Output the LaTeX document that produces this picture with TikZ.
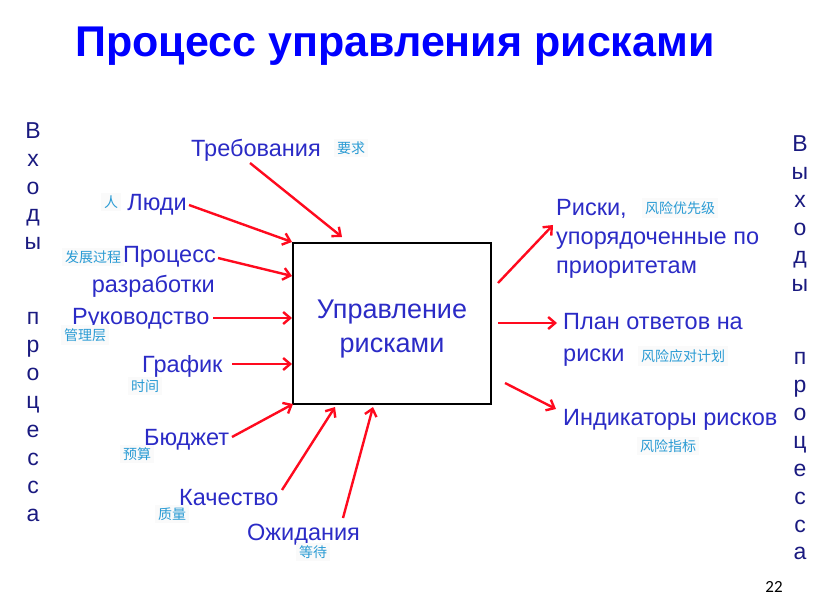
\documentclass[tikz,border=0pt]{standalone}
\usepackage{fontspec}
\setmainfont{Liberation Sans}
\newfontfamily\cjk{Noto Sans CJK SC}
\newfontfamily\calib{Carlito}
\usetikzlibrary{arrows.meta}
\definecolor{lblc}{HTML}{2B2BC6}
\definecolor{sidec}{HTML}{1A1A80}
\definecolor{zhc}{HTML}{2A9BD4}
\definecolor{ttlc}{HTML}{0000FF}
\definecolor{arrc}{HTML}{FF0A1E}
\begin{document}
\begin{tikzpicture}[x=1pt,y=-1pt,
  lbl/.style={text=lblc, font=\fontsize{23.5}{28}\selectfont, inner sep=0pt},
  boxlbl/.style={text=lblc, font=\fontsize{27}{32}\selectfont, inner sep=0pt},
  zhlbl/.style={text=zhc, font=\cjk\fontsize{14}{16}\selectfont, fill=black!2, inner sep=3pt},
  sidel/.style={text=sidec, font=\fontsize{23}{26}\selectfont, inner sep=0pt, anchor=base},
  arrow/.style={draw=arrc, line width=2.4pt, -{Straight Barb[length=7pt,width=12pt]}}]
\useasboundingbox (0,0) rectangle (813,601);

% title
\node[text=ttlc, font=\fontsize{43}{50}\selectfont\bfseries, inner sep=0pt, anchor=base] (title) at (395,57) {Процесс управления рисками};

% central box
\node[draw=black, line width=2.4pt, minimum width=198pt, minimum height=161pt, inner sep=0pt] (box) at (392,323.5) {};
\node[boxlbl, anchor=base] (bx1) at (392,318) {Управление};
\node[boxlbl, anchor=base] (bx2) at (392,352) {рисками};

% side columns
\foreach \ch/\yy [count=\i] in {В/139,х/167,о/195,д/222,ы/250,п/324,р/352,о/380,ц/408,е/437,с/465,с/493,а/521}
  \node[sidel] (L\i) at (33,\yy) {\ch};
\foreach \ch/\yy [count=\i] in {В/152,ы/180,х/208,о/236,д/264,ы/292,п/364,р/392,о/420,ц/448,е/476,с/504,с/532,а/559}
  \node[sidel] (R\i) at (800,\yy) {\ch};

% input labels
\node[lbl, anchor=base west] (treb) at (191,157) {Требования};
\node[lbl, anchor=base east] (lyudi) at (187,211) {Люди};
\node[lbl, anchor=base east] (proc1) at (216,263) {Процесс};
\node[lbl, anchor=base east] (proc2) at (215,293) {разработки};
\node[lbl, anchor=base west] (ruk) at (72,324) {Руководство};
\node[lbl, anchor=base west] (graf) at (142,372) {График};
\node[lbl, anchor=base west] (bud) at (144,445) {Бюджет};
\node[lbl, anchor=base west] (kach) at (179,505) {Качество};
\node[lbl, anchor=base west] (ozh) at (247,540) {Ожидания};

% output labels
\node[lbl, anchor=base west] (o1a) at (556,216) {Риски,};
\node[lbl, anchor=base west] (o1b) at (556,245) {упорядоченные по};
\node[lbl, anchor=base west] (o1c) at (556,274) {приоритетам};
\node[lbl, anchor=base west] (o2a) at (563,330) {План ответов на};
\node[lbl, anchor=base west] (o2b) at (563,361) {риски};
\node[lbl, anchor=base west] (o3) at (563,425) {Индикаторы рисков};

% chinese annotations
\node[zhlbl] (z1) at (351,148) {要求};
\node[zhlbl] (z2) at (111,202) {人};
\node[zhlbl] (z3) at (93,257) {发展过程};
\node[zhlbl] (z4) at (85,335) {管理层};
\node[zhlbl] (z5) at (145,386) {时间};
\node[zhlbl] (z6) at (137,454) {预算};
\node[zhlbl] (z7) at (172,514) {质量};
\node[zhlbl] (z8) at (313,552) {等待};
\node[zhlbl] (z9) at (680,208) {风险优先级};
\node[zhlbl] (z10) at (683,356) {风险应对计划};
\node[zhlbl] (z11) at (668,446) {风险指标};

% page number
\node[font=\calib\fontsize{17}{19}\selectfont, inner sep=0pt] (pg) at (774,587) {22};

% arrow endpoints
\coordinate (s1) at (250,163); \coordinate (e1) at (342,237);
\coordinate (s2) at (189,205); \coordinate (e2) at (292,242);
\coordinate (s3) at (218,258); \coordinate (e3) at (292,276);
\coordinate (s4) at (213,318); \coordinate (e4) at (292,318);
\coordinate (s5) at (232,364); \coordinate (e5) at (292,364);
\coordinate (s6) at (232,437); \coordinate (e6) at (293,404);
\coordinate (s7) at (282,490); \coordinate (e7) at (335,407);
\coordinate (s8) at (343,518); \coordinate (e8) at (373,407);
\coordinate (s9) at (498,283); \coordinate (e9) at (553,225);
\coordinate (s10) at (498,323); \coordinate (e10) at (557,323);
\coordinate (s11) at (505,383); \coordinate (e11) at (556,409);

\foreach \k in {1,...,11}
  \draw[arrow] (s\k) -- (e\k);
\end{tikzpicture}
\end{document}
